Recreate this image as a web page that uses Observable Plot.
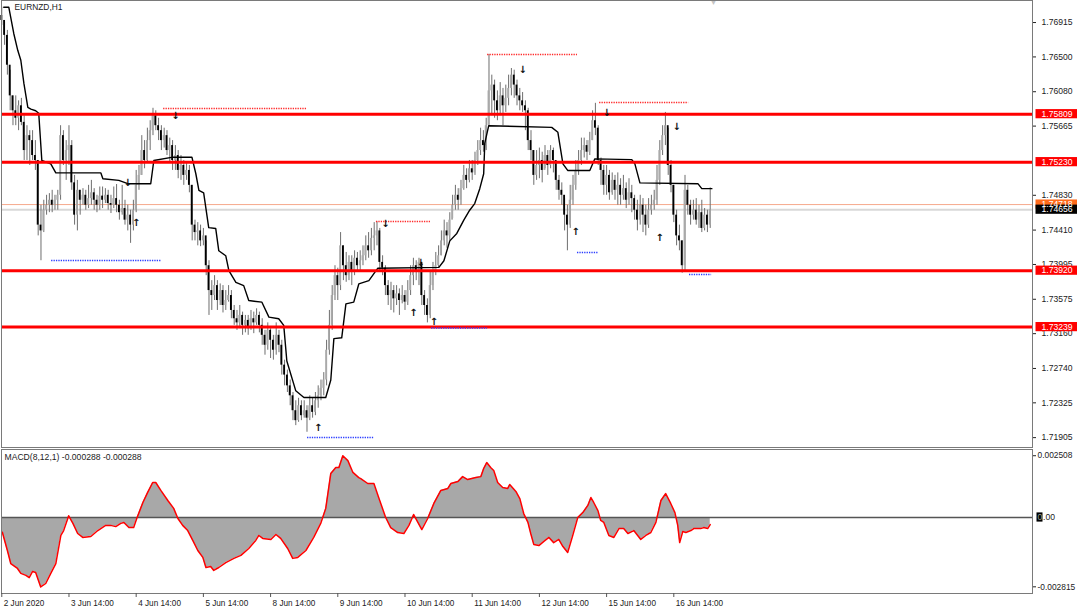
<!DOCTYPE html>
<html><head><meta charset="utf-8">
<script src="https://cdn.jsdelivr.net/npm/d3@7"></script>
<script src="https://cdn.jsdelivr.net/npm/@observablehq/plot@0.6"></script>
<style>
html,body{margin:0;padding:0;background:#fff;}
#chart{position:relative;width:1080px;height:608px;overflow:hidden;font-family:"Liberation Sans",Arial,sans-serif;}
#chart svg{display:block;overflow:visible;}
</style></head><body><div id="chart"></div>
<script>
// ---- EURNZD H1 candles (bar index 0 = 2 Jun 2020 14:00) ----
const firstOpen = 1.7700;
const closes = [
1.7694,1.7676,1.7640,1.7603,1.7585,1.7576,1.7591,1.7571,1.7537,1.7555,
1.7549,1.7531,1.7525,1.7447,1.7440,1.7465,1.7471,1.7477,1.7471,1.7477,
1.7483,1.7555,1.7525,1.7537,1.7543,1.7498,1.7459,1.7489,1.7477,1.7483,
1.7471,1.7479,1.7486,1.7477,1.7471,1.7482,1.7477,1.7483,1.7473,1.7471,
1.7479,1.7471,1.7462,1.7467,1.7453,1.7459,1.7447,1.7465,1.7495,1.7507,
1.7537,1.7525,1.7549,1.7561,1.7579,1.7567,1.7561,1.7549,1.7555,1.7537,
1.7543,1.7525,1.7531,1.7513,1.7519,1.7507,1.7513,1.7495,1.7447,1.7438,
1.7440,1.7428,1.7434,1.7398,1.7368,1.7362,1.7374,1.7356,1.7368,1.7350,
1.7356,1.7362,1.7344,1.7334,1.7329,1.7338,1.7326,1.7332,1.7322,1.7334,
1.7329,1.7338,1.7326,1.7314,1.7302,1.7320,1.7308,1.7296,1.7314,1.7302,
1.7278,1.7266,1.7253,1.7241,1.7223,1.7211,1.7229,1.7217,1.7223,1.7214,
1.7229,1.7221,1.7235,1.7241,1.7250,1.7260,1.7296,1.7326,1.7362,1.7386,
1.7374,1.7422,1.7398,1.7386,1.7402,1.7392,1.7407,1.7398,1.7404,1.7410,
1.7422,1.7416,1.7431,1.7434,1.7440,1.7402,1.7395,1.7374,1.7362,1.7368,
1.7358,1.7364,1.7356,1.7362,1.7354,1.7368,1.7386,1.7398,1.7392,1.7402,
1.7362,1.7350,1.7338,1.7374,1.7392,1.7398,1.7410,1.7428,1.7440,1.7434,
1.7453,1.7471,1.7483,1.7477,1.7491,1.7507,1.7501,1.7515,1.7510,1.7525,
1.7537,1.7549,1.7543,1.7567,1.7609,1.7616,1.7597,1.7585,1.7603,1.7591,
1.7600,1.7612,1.7628,1.7616,1.7603,1.7597,1.7591,1.7585,1.7549,1.7537,
1.7507,1.7519,1.7525,1.7513,1.7531,1.7519,1.7537,1.7525,1.7501,1.7489,
1.7483,1.7459,1.7447,1.7477,1.7495,1.7513,1.7525,1.7537,1.7543,1.7535,
1.7549,1.7573,1.7564,1.7525,1.7513,1.7495,1.7507,1.7486,1.7501,1.7489,
1.7495,1.7483,1.7491,1.7477,1.7486,1.7479,1.7465,1.7453,1.7471,1.7459,
1.7447,1.7465,1.7471,1.7477,1.7501,1.7537,1.7555,1.7567,1.7519,1.7495,
1.7459,1.7434,1.7428,1.7398,1.7489,1.7471,1.7459,1.7465,1.7453,1.7462,
1.7443,1.7459,1.7447,1.74656];
const highs = [
1.7710,1.7692,1.7682,1.7634,1.7603,1.7603,1.7597,1.7600,1.7579,1.7567,
1.7561,1.7561,1.7549,1.7525,1.7471,1.7477,1.7483,1.7485,1.7489,1.7483,
1.7489,1.7567,1.7561,1.7549,1.7567,1.7549,1.7507,1.7501,1.7489,1.7491,
1.7489,1.7495,1.7501,1.7491,1.7483,1.7493,1.7493,1.7491,1.7489,1.7483,
1.7493,1.7496,1.7477,1.7495,1.7477,1.7471,1.7465,1.7477,1.7513,1.7519,
1.7555,1.7549,1.7564,1.7573,1.7588,1.7585,1.7576,1.7567,1.7564,1.7561,
1.7552,1.7549,1.7543,1.7537,1.7531,1.7525,1.7522,1.7519,1.7495,1.7453,
1.7450,1.7447,1.7443,1.7428,1.7404,1.7380,1.7386,1.7380,1.7376,1.7374,
1.7368,1.7374,1.7368,1.7350,1.7344,1.7350,1.7342,1.7338,1.7338,1.7344,
1.7342,1.7346,1.7342,1.7334,1.7320,1.7329,1.7322,1.7314,1.7329,1.7320,
1.7308,1.7284,1.7272,1.7260,1.7245,1.7235,1.7238,1.7235,1.7235,1.7229,
1.7241,1.7238,1.7245,1.7253,1.7260,1.7269,1.7308,1.7344,1.7374,1.7398,
1.7395,1.7438,1.7422,1.7414,1.7410,1.7410,1.7416,1.7414,1.7416,1.7422,
1.7434,1.7438,1.7443,1.7450,1.7451,1.7443,1.7410,1.7398,1.7380,1.7378,
1.7374,1.7374,1.7370,1.7374,1.7368,1.7380,1.7398,1.7407,1.7404,1.7407,
1.7402,1.7368,1.7358,1.7392,1.7402,1.7414,1.7422,1.7440,1.7453,1.7450,
1.7462,1.7483,1.7495,1.7491,1.7501,1.7519,1.7515,1.7525,1.7525,1.7535,
1.7549,1.7564,1.7561,1.7576,1.7653,1.7628,1.7622,1.7609,1.7619,1.7612,
1.7616,1.7628,1.7636,1.7634,1.7622,1.7612,1.7607,1.7597,1.7588,1.7561,
1.7537,1.7537,1.7540,1.7535,1.7543,1.7537,1.7543,1.7540,1.7522,1.7507,
1.7498,1.7479,1.7471,1.7495,1.7507,1.7525,1.7537,1.7552,1.7552,1.7549,
1.7559,1.7585,1.7594,1.7567,1.7528,1.7519,1.7519,1.7513,1.7510,1.7507,
1.7510,1.7503,1.7507,1.7498,1.7503,1.7495,1.7483,1.7477,1.7483,1.7479,
1.7471,1.7479,1.7483,1.7489,1.7519,1.7549,1.7567,1.7583,1.7564,1.7525,
1.7495,1.7465,1.7447,1.7428,1.7507,1.7495,1.7477,1.7477,1.7479,1.7471,
1.7477,1.7467,1.7465,1.7492];
const lows = [
1.7688,1.7664,1.7628,1.7585,1.7567,1.7567,1.7561,1.7567,1.7525,1.7525,
1.7519,1.7525,1.7513,1.7434,1.7404,1.7438,1.7459,1.7462,1.7462,1.7465,
1.7465,1.7477,1.7519,1.7501,1.7519,1.7489,1.7447,1.7440,1.7459,1.7471,
1.7465,1.7467,1.7471,1.7465,1.7462,1.7465,1.7467,1.7473,1.7465,1.7461,
1.7467,1.7462,1.7453,1.7459,1.7447,1.7440,1.7425,1.7440,1.7462,1.7489,
1.7507,1.7515,1.7523,1.7537,1.7555,1.7561,1.7549,1.7537,1.7540,1.7531,
1.7523,1.7513,1.7513,1.7503,1.7501,1.7495,1.7501,1.7486,1.7428,1.7428,
1.7422,1.7421,1.7422,1.7386,1.7338,1.7344,1.7356,1.7344,1.7350,1.7341,
1.7344,1.7354,1.7334,1.7326,1.7320,1.7322,1.7314,1.7317,1.7314,1.7320,
1.7316,1.7326,1.7317,1.7302,1.7290,1.7296,1.7286,1.7284,1.7290,1.7293,
1.7266,1.7253,1.7245,1.7229,1.7211,1.7205,1.7209,1.7211,1.7214,1.7197,
1.7211,1.7214,1.7217,1.7226,1.7235,1.7241,1.7253,1.7290,1.7320,1.7356,
1.7356,1.7368,1.7380,1.7378,1.7380,1.7374,1.7386,1.7390,1.7392,1.7398,
1.7404,1.7407,1.7410,1.7416,1.7422,1.7392,1.7386,1.7362,1.7350,1.7344,
1.7341,1.7350,1.7338,1.7352,1.7344,1.7350,1.7362,1.7374,1.7380,1.7374,
1.7350,1.7338,1.7329,1.7334,1.7368,1.7386,1.7395,1.7410,1.7422,1.7419,
1.7428,1.7455,1.7465,1.7465,1.7471,1.7489,1.7491,1.7498,1.7501,1.7507,
1.7519,1.7531,1.7535,1.7537,1.7567,1.7579,1.7576,1.7573,1.7579,1.7567,
1.7583,1.7591,1.7603,1.7600,1.7591,1.7585,1.7583,1.7561,1.7537,1.7525,
1.7495,1.7501,1.7503,1.7498,1.7515,1.7507,1.7515,1.7510,1.7489,1.7477,
1.7471,1.7440,1.7416,1.7443,1.7471,1.7489,1.7507,1.7519,1.7528,1.7525,
1.7531,1.7549,1.7555,1.7519,1.7495,1.7483,1.7483,1.7477,1.7483,1.7477,
1.7471,1.7471,1.7477,1.7467,1.7471,1.7462,1.7453,1.7440,1.7447,1.7438,
1.7434,1.7443,1.7459,1.7465,1.7471,1.7495,1.7531,1.7543,1.7507,1.7486,
1.7450,1.7422,1.7416,1.7389,1.7390,1.7459,1.7447,1.7453,1.7447,1.7443,
1.7438,1.7440,1.7438,1.7443];

// ---- trailing (black) line vertices ----
const trailBar = [0.7,2.5,4.3,5.7,6.8,7.9,9.3,10.4,12.1,13.2,14.3,17.5,19.3,35.4,36.1,41.8,45.0,53.2,54.3,61.1,67.9,69.3,70.4,72.1,73.9,76.4,77.5,80.0,81.1,83.6,86.4,88.2,92.9,95.4,98.9,100.7,101.8,105.0,107.9,115.7,117.5,118.6,121.4,122.9,125.7,127.5,131.1,134.3,156.1,157.9,160.0,162.5,165.0,167.1,168.9,170.7,172.1,172.5,173.9,196.4,198.6,200.4,202.1,210.0,211.8,225.0,226.1,227.9,248.6,250.0,253.6];
const trailVal = [1.7710,1.7710,1.7678,1.7658,1.7646,1.7618,1.7589,1.7587,1.7585,1.7582,1.7525,1.7521,1.7510,1.7510,1.7503,1.7501,1.7497,1.7497,1.7525,1.7529,1.7529,1.7509,1.7489,1.7486,1.7444,1.7443,1.7416,1.7410,1.7392,1.7378,1.7374,1.7356,1.7354,1.7336,1.7334,1.7326,1.7283,1.7247,1.7239,1.7239,1.7260,1.7310,1.7311,1.7352,1.7354,1.7376,1.7380,1.7395,1.7396,1.7404,1.7428,1.7437,1.7453,1.7465,1.7473,1.7491,1.7509,1.7546,1.7567,1.7565,1.7559,1.7521,1.7513,1.7513,1.7527,1.7526,1.7521,1.7498,1.7497,1.7491,1.7491];

// ---- horizontal levels ----
const levels = [1.75809, 1.75230, 1.73920, 1.73239];
const askPrice = 1.74718, bidPrice = 1.74656;
const priceTicks = [1.76915,1.76500,1.76080,1.75665,1.74830,1.74410,1.73995,1.73575,1.73160,1.72740,1.72325,1.71905];

// dotted high / low markers
const highMarkFrom = [57.8,133.8,173.5,213.5], highMarkTo = [109.2,153.1,205.6,245.3], highMarkVal = [1.75877,1.74514,1.76529,1.75950];
const lowMarkFrom = [17.8,109.2,153.5,205.6,245.6], lowMarkTo = [57.0,133.1,173.5,213.1,253.5], lowMarkVal = [1.74043,1.71906,1.73228,1.74139,1.73874];

// arrows
const downArrowBar = [45,62,137,149.6,186,216,241], downArrowVal = [1.7498,1.7579,1.7448,1.7401,1.7634,1.7582,1.7566];
const upArrowBar = [48,113,147,154.3,205,235], upArrowVal = [1.7450,1.7202,1.7341,1.7330,1.7439,1.7432];

// ---- MACD(8,12,1) ----
const macdBar = [0.2,2.0,3.2,5.6,6.8,8.6,9.8,11.0,12.1,13.9,15.7,17.5,19.3,21.1,22.1,23.9,25.4,27.1,28.9,31.8,34.3,37.1,38.9,40.7,42.5,43.6,45.4,47.1,48.2,50.4,52.1,53.9,55.0,56.8,59.3,61.4,62.9,64.6,66.4,68.2,70.0,71.8,72.9,74.6,75.7,77.5,80.0,82.9,85.4,88.2,90.7,91.8,93.2,96.1,97.9,99.6,102.1,103.9,105.7,108.6,111.4,113.9,115.7,117.5,119.3,120.4,121.8,123.6,125.4,127.5,128.2,130.7,132.9,134.6,137.1,138.9,141.4,143.6,145.4,147.1,148.6,150.0,152.1,154.3,156.8,159.3,160.4,162.9,164.6,166.4,169.3,171.1,172.1,173.2,174.6,175.7,177.1,178.9,180.7,181.4,183.6,185.0,186.4,187.9,188.9,190.0,191.8,193.6,195.4,197.1,198.9,200.4,202.1,203.9,205.7,207.5,209.3,210.4,211.4,212.9,213.9,215.0,216.8,218.6,220.4,222.1,223.6,225.7,228.2,230.0,231.8,233.6,235.4,237.1,238.9,240.4,241.4,242.1,243.2,244.3,246.1,247.1,249.6,250.7,252.1,253.0];
const macdVal = [-0.00060,-0.00134,-0.00187,-0.00207,-0.00227,-0.00235,-0.00244,-0.00219,-0.00223,-0.00282,-0.00268,-0.00227,-0.00187,-0.00073,-0.00053,0.00007,-0.00024,-0.00065,-0.00081,-0.00077,-0.00053,-0.00032,-0.00032,-0.00037,-0.00024,-0.00020,-0.00041,-0.00041,-0.00004,0.00061,0.00102,0.00142,0.00142,0.00110,0.00069,0.00037,-0.00004,-0.00032,-0.00053,-0.00093,-0.00134,-0.00162,-0.00203,-0.00199,-0.00215,-0.00203,-0.00183,-0.00166,-0.00154,-0.00126,-0.00093,-0.00073,-0.00085,-0.00089,-0.00069,-0.00085,-0.00126,-0.00166,-0.00162,-0.00134,-0.00081,-0.00024,0.00037,0.00179,0.00203,0.00203,0.00251,0.00231,0.00183,0.00162,0.00158,0.00138,0.00138,0.00081,0.00000,-0.00041,-0.00061,-0.00065,-0.00032,0.00012,-0.00020,-0.00049,-0.00004,0.00057,0.00110,0.00118,0.00138,0.00146,0.00166,0.00154,0.00162,0.00166,0.00199,0.00223,0.00203,0.00191,0.00142,0.00122,0.00118,0.00134,0.00106,0.00077,0.00016,-0.00020,-0.00065,-0.00110,-0.00114,-0.00097,-0.00081,-0.00102,-0.00089,-0.00118,-0.00142,-0.00073,0.00000,0.00020,0.00049,0.00081,0.00061,0.00028,-0.00012,-0.00020,-0.00073,-0.00081,-0.00045,-0.00045,-0.00065,-0.00053,-0.00089,-0.00073,-0.00061,-0.00020,0.00069,0.00097,0.00057,0.00020,-0.00032,-0.00102,-0.00057,-0.00061,-0.00053,-0.00045,-0.00045,-0.00041,-0.00045,-0.000288];
const macdTicks = [0.002508, -0.002815];

// ---- time axis ----
const dateTickBars = [0,24,48,72,96,120,144,168,192,216,240];
const dateTickLabels = ["2 Jun 2020","3 Jun 14:00","4 Jun 14:00","5 Jun 14:00","8 Jun 14:00","9 Jun 14:00","10 Jun 14:00","11 Jun 14:00","12 Jun 14:00","15 Jun 14:00","16 Jun 14:00"];

// ---------------------------------------------------------------
const FONT = '"Liberation Sans", Arial, sans-serif';
const W = 1080;
const xDom = [-0.1, 368.1];
const pxPerBar = 1031 / (xDom[1] - xDom[0]);
const barAt = px => (px - 1) / pxPerBar + xDom[0];

const bars = closes.map((c, i) => ({
  i, close: c, open: i ? closes[i - 1] : firstOpen, high: highs[i], low: lows[i]
}));
const trail = trailBar.map((b, k) => ({b, v: trailVal[k]}));
const highMarks = highMarkVal.map((v, k) => ({a: highMarkFrom[k], b: highMarkTo[k], v}));
const lowMarks = lowMarkVal.map((v, k) => ({a: lowMarkFrom[k], b: lowMarkTo[k], v}));
const downArrows = downArrowBar.map((b, k) => ({b, v: downArrowVal[k]}));
const upArrows = upArrowBar.map((b, k) => ({b, v: upArrowVal[k]}));
const macd = macdBar.map((b, k) => ({b, v: macdVal[k]}));
const dateTicks = dateTickBars.map((b, k) => ({b, label: dateTickLabels[k]}));

const yDom = [1.71786, 1.77181];
const pricePerPx = (yDom[1] - yDom[0]) / 447;
const boxHalf = 4.6 * pricePerPx;
const bx1 = barAt(1035.5), bx2 = barAt(1077);

const priceLabels = [
  ...levels.map(v => ({v, fill: "#ff0000", text: "#fff"})),
  {v: askPrice, fill: "#ff6a1a", text: "#fff"},
  {v: bidPrice, fill: "#000", text: "#fff"}
];

const pricePlot = Plot.plot({
  width: W, height: 448,
  marginLeft: 1, marginRight: 48, marginTop: 0, marginBottom: 1,
  x: {type: "linear", domain: xDom, axis: null, label: null},
  y: {type: "linear", domain: yDom, axis: null, label: null},
  style: {fontFamily: FONT, fontSize: "8.6px", color: "#222", background: "transparent", overflow: "visible"},
  marks: [
    Plot.ruleY([bidPrice], {stroke: "#d8d8d8", strokeWidth: 2}),
    Plot.ruleY([askPrice], {stroke: "#f6a98c", strokeWidth: 1}),
    Plot.ruleX(bars, {x: "i", y1: "low", y2: "high", stroke: "#6e6e6e", strokeWidth: 1}),
    Plot.rect(bars, {
      x1: d => d.i - 0.33, x2: d => d.i + 0.33, y1: "open", y2: "close",
      fill: d => d.close >= d.open ? "#a9a9a9" : "#000"
    }),
    Plot.line(trail, {x: "b", y: "v", stroke: "#000", strokeWidth: 1.4}),
    Plot.ruleY(levels, {stroke: "#ff0000", strokeWidth: 3}),
    Plot.ruleY(highMarks, {y: "v", x1: "a", x2: "b", stroke: "#ff2a2a", strokeWidth: 1.6, strokeDasharray: "1.3,1.1"}),
    Plot.ruleY(lowMarks, {y: "v", x1: "a", x2: "b", stroke: "#2a3cff", strokeWidth: 1.6, strokeDasharray: "1.3,1.1"}),
    Plot.text(downArrows, {x: "b", y: "v", text: () => "↓", fill: "#111", fontSize: 10, fontWeight: "bold", fontFamily: "DejaVu Sans"}),
    Plot.text(upArrows, {x: "b", y: "v", text: () => "↑", fill: "#111", fontSize: 10, fontWeight: "bold", fontFamily: "DejaVu Sans"}),
    Plot.frame({stroke: "#7a7a7a"}),
    Plot.axisY(priceTicks, {anchor: "right", label: null, tickSize: 3, tickPadding: 6, tickFormat: d => d.toFixed(5), color: "#222", fontSize: 8.6}),
    Plot.rect(priceLabels, {x1: bx1, x2: bx2, y1: d => d.v - boxHalf, y2: d => d.v + boxHalf, fill: "fill", clip: false}),
    Plot.text(priceLabels, {x: barAt(1041), y: "v", text: d => d.v.toFixed(5), fill: "text", textAnchor: "start", fontSize: 8.6}),
    Plot.text(["EURNZD,H1"], {frameAnchor: "top-left", dx: 13, dy: 4, textAnchor: "start", lineAnchor: "top", fill: "#222", fontSize: 8.4}),
    Plot.text(["▼"], {x: 254.2, frameAnchor: "top", dy: 0, lineAnchor: "top", fill: "#c4c4c4", fontSize: 7})
  ]
});

const mDom = [-0.003086, 0.002761];
const mPerPx = (mDom[1] - mDom[0]) / 144;

const macdPlot = Plot.plot({
  width: W, height: 160,
  marginLeft: 1, marginRight: 48, marginTop: 1, marginBottom: 15,
  x: {type: "linear", domain: xDom, axis: null, label: null},
  y: {type: "linear", domain: mDom, axis: null, label: null},
  style: {fontFamily: FONT, fontSize: "8.6px", color: "#222", background: "transparent", overflow: "visible"},
  marks: [
    Plot.areaY(macd, {x: "b", y1: 0, y2: "v", fill: "#a8a8a8"}),
    Plot.ruleY([0], {stroke: "#555", strokeWidth: 1.4}),
    Plot.line(macd, {x: "b", y: "v", stroke: "#ff0000", strokeWidth: 1.5}),
    Plot.frame({stroke: "#7a7a7a"}),
    Plot.axisY(macdTicks, {anchor: "right", label: null, tickSize: 3, tickPadding: 2, tickFormat: d => d.toFixed(6), color: "#222", fontSize: 8.4}),
    Plot.rect([0], {x1: barAt(1036.5), x2: barAt(1042.5), y1: -4.6 * mPerPx, y2: 4.6 * mPerPx, fill: "#000", clip: false}),
    Plot.text(["0"], {x: barAt(1037), y: 0, textAnchor: "start", fill: "#9aa59a", fontSize: 8.6}),
    Plot.text([".00"], {x: barAt(1042.5), y: 0, textAnchor: "start", fill: "#222", fontSize: 8.6}),
    // time axis: ticks below the frame and left-aligned labels
    Plot.ruleX(dateTicks, {x: "b", y1: mDom[0], y2: mDom[0] - 4 * mPerPx, stroke: "#555", clip: false}),
    Plot.text(dateTicks, {x: "b", y: mDom[0], text: "label", dx: 2, dy: 10, textAnchor: "start", fill: "#222", fontSize: 8.2}),
    Plot.text(["MACD(8,12,1) -0.000288 -0.000288"], {frameAnchor: "top-left", dx: 3, dy: 4, textAnchor: "start", lineAnchor: "top", fill: "#222", fontSize: 8.6})
  ]
});

const root = document.getElementById("chart");
root.appendChild(pricePlot);
root.appendChild(macdPlot);
</script>
</body></html>
